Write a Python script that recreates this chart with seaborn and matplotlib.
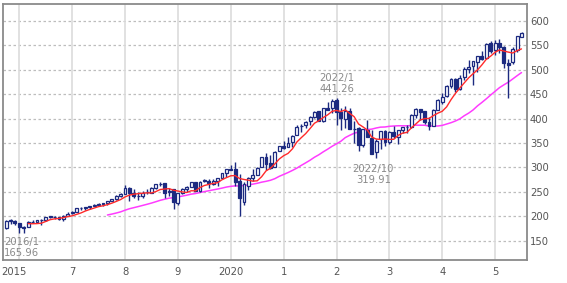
import numpy as np
import pandas as pd
import matplotlib
matplotlib.use("Agg")
import matplotlib.pyplot as plt
import matplotlib.transforms as mtrans
import seaborn as sns

# ---- data (monthly candles, 2015/10 .. 2025/7) ----
months = pd.period_range("2015-10", "2025-07", freq="M").strftime("%Y/%m").tolist()

opens = [175.8, 190.6, 190.8, 186.7, 177.4, 177.4, 188.4, 189.4, 191.8, 192.3, 199.1, 198.9,
         198.3, 195.0, 201.5, 206.2, 209.4, 218.0, 216.4, 218.8, 221.3, 222.7, 226.9, 226.7,
         230.9, 236.6, 242.3, 245.8, 258.0, 248.7, 241.2, 242.1, 249.0, 247.8, 258.4, 265.4,
         268.1, 248.9, 255.6, 226.9, 247.5, 256.3, 260.9, 270.4, 252.0, 272.2, 273.0, 266.5,
         273.3, 279.4, 288.0, 297.2, 296.4, 272.4, 228.8, 262.8, 278.3, 284.5, 301.2, 321.3,
         310.1, 301.9, 334.0, 344.8, 341.8, 352.0, 365.7, 384.0, 386.2, 394.0, 403.7, 414.8,
         395.5, 422.3, 421.6, 437.7, 414.0, 399.7, 415.9, 378.4, 380.1, 346.3, 376.7, 360.6,
         330.7, 357.4, 374.4, 353.0, 372.8, 363.0, 375.8, 381.7, 383.2, 407.7, 419.4, 415.0,
         392.5, 384.8, 417.6, 434.7, 445.3, 467.0, 481.6, 460.7, 485.2, 501.2, 507.3, 515.2,
         527.4, 524.3, 553.3, 540.7, 553.4, 546.7, 512.7, 515.3, 540.1, 567.5]
highs = [191.8, 193.9, 192.8, 186.7, 179.8, 189.8, 193.4, 192.7, 194.2, 199.4, 201.0, 200.4,
         198.7, 202.8, 208.6, 210.8, 217.2, 219.9, 219.7, 221.6, 224.8, 227.5, 228.2, 230.8,
         236.6, 243.4, 246.9, 263.2, 259.8, 256.7, 248.9, 251.2, 255.7, 260.9, 267.2, 269.4,
         269.3, 257.9, 256.5, 248.1, 257.7, 262.0, 270.2, 270.6, 271.5, 277.4, 276.0, 276.8,
         279.4, 288.9, 297.5, 305.7, 310.8, 287.3, 270.7, 281.1, 296.2, 300.4, 322.0, 328.7,
         325.2, 334.0, 344.4, 354.6, 361.9, 365.9, 386.4, 388.2, 394.1, 405.8, 415.6, 416.4,
         422.1, 434.5, 440.5, 441.26, 420.9, 424.8, 420.8, 394.6, 382.7, 379.2, 396.2, 377.3,
         357.7, 373.7, 375.6, 375.0, 384.3, 376.5, 382.0, 387.6, 408.4, 422.0, 420.0, 416.0,
         402.5, 420.2, 439.1, 451.7, 468.2, 482.3, 482.2, 489.3, 504.3, 519.3, 517.7, 528.3,
         538.5, 553.6, 558.8, 561.3, 563.1, 548.3, 521.7, 546.7, 569.3, 576.0]
lows = [173.5, 185.0, 182.6, 165.96, 166.2, 177.4, 186.3, 185.6, 182.4, 190.0, 196.7, 194.1,
        193.7, 190.9, 200.4, 205.7, 208.1, 212.7, 213.3, 215.5, 220.4, 220.5, 221.4, 224.1,
        230.9, 234.3, 238.7, 245.7, 232.0, 236.9, 233.9, 237.7, 246.6, 247.2, 256.1, 262.4,
        238.5, 241.0, 214.9, 223.9, 245.7, 249.4, 260.9, 251.9, 250.0, 270.4, 258.5, 264.9,
        261.6, 279.4, 281.2, 294.5, 261.6, 200.8, 224.2, 253.4, 271.7, 284.1, 300.9, 294.0,
        296.2, 300.4, 332.8, 338.4, 341.3, 341.1, 365.7, 371.6, 381.5, 387.8, 400.1, 394.4,
        392.0, 417.7, 411.8, 386.8, 376.9, 380.9, 377.8, 349.0, 333.1, 340.9, 362.2, 328.3,
        319.91, 338.7, 344.8, 347.6, 361.2, 348.9, 370.9, 370.8, 381.6, 401.7, 397.1, 388.3,
        375.9, 384.5, 416.5, 428.9, 444.6, 463.2, 453.7, 459.0, 479.5, 493.8, 468.9, 494.9,
        519.7, 521.8, 534.2, 528.8, 534.7, 502.8, 442.9, 511.0, 536.9, 566.0]
closes = [190.5, 190.6, 187.2, 177.7, 177.0, 188.7, 189.2, 192.1, 192.3, 199.1, 198.9, 198.6,
          194.8, 201.4, 205.1, 208.7, 216.5, 216.4, 218.4, 220.9, 222.0, 226.3, 226.4, 230.8,
          235.9, 242.5, 244.9, 258.7, 248.6, 241.9, 242.6, 247.8, 249.0, 258.0, 265.8, 266.9,
          248.4, 252.8, 229.6, 247.7, 255.1, 259.6, 269.8, 252.1, 269.5, 273.0, 268.1, 272.7,
          278.2, 287.7, 295.9, 295.5, 270.6, 236.7, 266.8, 278.9, 284.0, 299.6, 320.6, 308.1,
          299.5, 331.7, 344.1, 340.2, 349.1, 363.9, 383.0, 385.1, 393.7, 402.6, 414.3, 394.6,
          421.9, 418.3, 436.6, 413.6, 400.7, 415.0, 378.5, 378.5, 346.7, 378.3, 362.3, 328.4,
          354.7, 373.7, 351.7, 373.4, 363.7, 376.4, 381.9, 382.9, 407.7, 420.3, 412.9, 392.8,
          384.2, 418.4, 436.9, 443.9, 466.8, 481.3, 461.3, 483.4, 500.2, 505.8, 517.4, 527.8,
          522.6, 552.6, 538.8, 553.3, 545.4, 514.1, 510.1, 541.5, 568.4, 574.0]

x_tick_months = ["2016/01", "2017/01", "2018/01", "2019/01", "2020/01",
                 "2021/01", "2022/01", "2023/01", "2024/01", "2025/01"]
x_tick_labels = ["2015", "7", "8", "9", "2020", "1", "2", "3", "4", "5"]
y_ticks = [150, 200, 250, 300, 350, 400, 450, 500, 550, 600]

note_high = ("2022/01", 441.26, "2022/1\n441.26")
note_low = ("2022/10", 319.91, "2022/10\n319.91")
note_start = ("2016/01", 165.96, "2016/1\n165.96")

# ---- frame ----
df = pd.DataFrame({"month": months, "open": opens, "high": highs,
                   "low": lows, "close": closes})
df["i"] = np.arange(len(df))
df["ma_short"] = df["close"].rolling(6).mean()
df["ma_long"] = df["close"].rolling(24).mean()
pos = {m: k for k, m in enumerate(months)}

sns.set_style("white")
plt.rcParams["font.family"] = ["DejaVu Sans"]

fig = plt.figure(figsize=(5.67, 2.83), dpi=100)
ax = fig.add_axes([0.0058, 0.0813, 0.9237, 0.9046])

navy = "#1c2a80"
ax.set_xlim(-0.64, 118.25)
ax.set_ylim(111, 634)

# grid
for yv in y_ticks:
    ax.axhline(yv, color="#bdbdbd", lw=0.9, ls=(0, (2, 2)), zorder=0)
for m in x_tick_months:
    ax.axvline(pos[m], color="#dcdcdc", lw=1.2, zorder=0)

# moving averages
sns.lineplot(data=df, x="i", y="ma_long", ax=ax, color="#ff3cff", lw=1.1, zorder=2)
sns.lineplot(data=df, x="i", y="ma_short", ax=ax, color="#ff2a2a", lw=1.0, zorder=4)

# candles
up = df["close"] >= df["open"]
ax.vlines(df["i"], df["low"], df["high"], color=navy, lw=1.0, zorder=3)
body_bottom = np.minimum(df["open"], df["close"])
body_h = np.maximum(np.abs(df["close"] - df["open"]), 1.2)
ax.bar(df["i"][up], body_h[up], bottom=body_bottom[up], width=0.65,
       color="white", edgecolor=navy, lw=0.9, zorder=3.5)
ax.bar(df["i"][~up], body_h[~up], bottom=body_bottom[~up], width=0.65,
       color=navy, edgecolor=navy, lw=0.9, zorder=3.5)

# ticks
ax.yaxis.tick_right()
ax.set_yticks(y_ticks)
ax.set_yticklabels([str(v) for v in y_ticks])
ax.set_xticks([pos[m] for m in x_tick_months])
ax.set_xticklabels(x_tick_labels)
ax.tick_params(axis="y", length=0, pad=2.0, labelsize=7.2, colors="#555555")
ax.tick_params(axis="x", length=0, pad=5, labelsize=7.2, colors="#555555")
first = ax.get_xticklabels()[0]
first.set_transform(first.get_transform() +
                    mtrans.ScaledTranslation(-0.05, 0, fig.dpi_scale_trans))
ax.set_xlabel("")
ax.set_ylabel("")

for s in ax.spines.values():
    s.set_visible(True)
    s.set_color("#8a8a8a")
    s.set_linewidth(1.3)

# annotations
ac = "#8a8a8a"
ax.annotate(note_high[2], (pos[note_high[0]], note_high[1]), xytext=(0, 3),
            textcoords="offset points", ha="center", va="bottom",
            fontsize=7.2, color=ac, linespacing=1.15)
ax.annotate(note_low[2], (pos[note_low[0]], note_low[1]), xytext=(-2, -4.5),
            textcoords="offset points", ha="center", va="top",
            fontsize=7.2, color=ac, linespacing=1.15)
ax.annotate(note_start[2], (pos[note_start[0]], note_start[1]),
            xytext=(ax.get_xlim()[0] + 0.15, 158.5), textcoords="data",
            ha="left", va="top", fontsize=7.2, color=ac, linespacing=1.15)

fig.savefig("out.png", dpi=100)
